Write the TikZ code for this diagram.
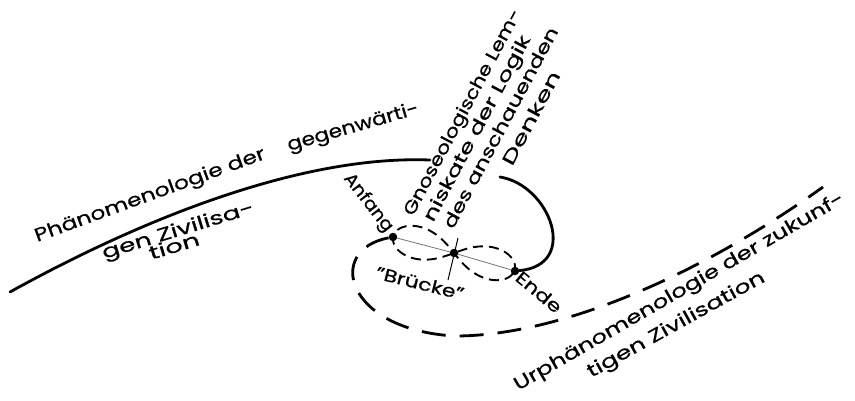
\documentclass[tikz,border=0pt]{standalone}
\usepackage{graphicx}
\usepackage{fontspec}
\setmainfont{Poppins}[FakeBold=0.6]
\usetikzlibrary{positioning, calc}

\newcommand{\breit}[2]{\resizebox{#1pt}{\height}{#2}}

\tikzset{
  lbl/.style={font=\fontsize{#1}{#1}\selectfont, inner sep=0pt},
  lbl/.default=18.5,
  curveline/.style={line width=2.8pt, line cap=round},
  dashline/.style={line width=2.8pt, dash pattern=on 24pt off 14pt},
  lemniline/.style={line width=1.9pt, dash pattern=on 10pt off 6pt},
  axisline/.style={line width=0.8pt, black!55},
  crossline/.style={line width=1pt},
  dotnode/.style={circle, fill=black, inner sep=0pt, minimum size=8.5pt},
}

\begin{document}
\begin{tikzpicture}[x=1pt, y=-1pt]
  \useasboundingbox (0,0) rectangle (855,400);
  % Anfang, Mitte, Ende
  \node[dotnode] (anfang) at (393,237) {};
  \node[dotnode] (mitte)  at (454,253) {};
  \node[dotnode] (ende)   at (515,271) {};
  \coordinate (links)  at (10,292);
  \coordinate (bruchL) at (430,160);
  \coordinate (bruchR) at (500,177);
  \coordinate (unten)  at (455,336);
  \coordinate (rechts) at (823,187);
  \coordinate (kreuzO) at (458,238);
  \coordinate (kreuzU) at (448,280);
  % gegenwaertige Zivilisation
  \draw[curveline] (links) .. controls (140,220) and (300,155) .. (bruchL);
  \draw[curveline] (bruchR) .. controls (550,185) and (580,265) .. (ende);
  % zukuenftige Zivilisation
  \draw[dashline] (anfang) .. controls (325,250) and (345,330) .. (unten)
                  .. controls (560,336) and (700,275) .. (rechts);
  % Lemniskate
  \draw[lemniline, shift={(mitte)}, rotate=-15.6]
    plot[domain=0:355, samples=72, smooth cycle]
    ({63*cos(\x)/(1+sin(\x)*sin(\x))}, {0.72*63*sin(\x)*cos(\x)/(1+sin(\x)*sin(\x))});
  \draw[axisline] (anfang) -- (mitte) -- (ende);
  \draw[crossline] (kreuzO) -- (kreuzU);
  % Beschriftung
  \node[lbl, anchor=base west, rotate=20] (phaenA) at (37,242) {\breit{244}{Phänomenologie der}};
  \node[lbl, anchor=base west, rotate=16] (phaenB) at (289,151) {\breit{136}{gegenwärti-}};
  \node[lbl, anchor=base west, rotate=17] (zivA) at (104,259) {\breit{158}{gen Zivilisa-}};
  \node[lbl, anchor=base west, rotate=17] (zivB) at (151,260) {\breit{52}{tion}};
  \node[lbl=17.5, rotate=-52] (anfangT) at (368,203) {\breit{69}{Anfang}};
  \node[lbl=17.5, rotate=-40] (endeT) at (539,292) {\breit{54}{Ende}};
  \node[lbl=17.5, rotate=-14] (bruecke) at (420,283) {\breit{90}{"Brücke"}};
  \node[lbl=17.5, anchor=base west, rotate=62] (gnoA) at (413,217) {\breit{231}{Gnoseologische Lem-}};
  \node[lbl=17.5, anchor=base west, rotate=62] (gnoB) at (433,223) {\breit{208}{niskate der Logik}};
  \node[lbl=17.5, anchor=base west, rotate=62] (gnoC) at (453,230) {\breit{225}{des anschauenden}};
  \node[lbl=17.5, anchor=base west, rotate=62] (gnoD) at (512,167) {\breit{104}{Denken}};
  \node[lbl, anchor=base west, rotate=30] (urA) at (518,391) {\breit{378}{Urphänomenologie der zukunf-}};
  \node[lbl, anchor=base west, rotate=29] (urB) at (591,378) {\breit{200}{tigen Zivilisation}};
\end{tikzpicture}
\end{document}
